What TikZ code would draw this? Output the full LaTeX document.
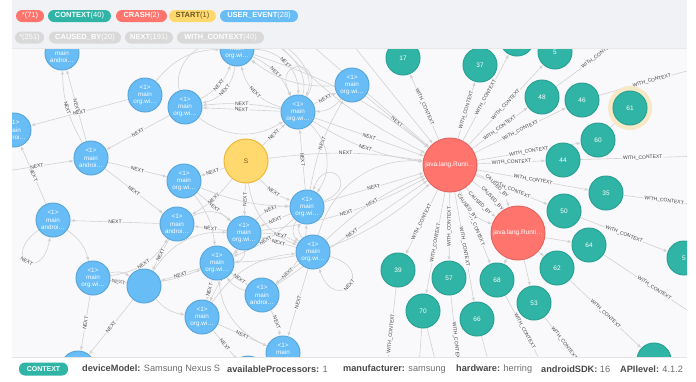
\documentclass[tikz,border=0pt]{standalone}
\usepackage{fontspec}
\setmainfont{Liberation Sans}
\usetikzlibrary{arrows.meta}

\definecolor{evtfill}{HTML}{68BDF6}
\definecolor{evtline}{HTML}{5CA8DB}
\definecolor{ctxfill}{HTML}{30B4A6}
\definecolor{ctxline}{HTML}{2AA295}
\definecolor{crashfill}{HTML}{FF756E}
\definecolor{crashline}{HTML}{E3665F}
\definecolor{startfill}{HTML}{FFD86E}
\definecolor{startline}{HTML}{EDBA39}
\definecolor{starttext}{HTML}{6B5420}
\definecolor{halo}{HTML}{F7E8C6}
\definecolor{relline}{HTML}{D2D2D2}
\definecolor{labtext}{HTML}{444444}
\definecolor{canvas}{HTML}{F9F9FB}
\definecolor{panel}{HTML}{F0F2F5}
\definecolor{pillgray}{HTML}{D9D9D9}
\definecolor{keytext}{HTML}{4A4A4A}
\definecolor{valtext}{HTML}{6E6E6E}

\newcommand{\propkv}[2]{{\color{keytext}\bfseries #1:} #2}

\pgfdeclarelayer{edges}
\pgfdeclarelayer{front}
\pgfsetlayers{edges,main,front}

\tikzset{
  evtnode/.style={circle, fill=evtfill, draw=evtline, line width=1pt, minimum size=34pt, inner sep=0pt,
    text=white, align=center, font=\fontsize{6.3}{7.4}\selectfont},
  ctxnode/.style={circle, fill=ctxfill, draw=ctxline, line width=1pt, minimum size=34pt, inner sep=0pt,
    text=white, font=\fontsize{6.5}{7}\selectfont},
  crashnode/.style={circle, fill=crashfill, draw=crashline, line width=1pt, minimum size=54pt, inner sep=0pt,
    text=white, font=\fontsize{6.5}{7}\selectfont},
  startnode/.style={circle, fill=startfill, draw=startline, line width=1pt, minimum size=44pt, inner sep=0pt,
    text=starttext, font=\fontsize{6.5}{7}\selectfont},
  picked/.style={preaction={draw=halo, line width=10pt}},
  rel/.style={draw=relline, line width=0.6pt, -{Latex[length=4pt,width=3.2pt]}},
  plainrel/.style={draw=relline, line width=0.6pt},
  rlab/.style={sloped, fill=canvas, inner sep=0.6pt, text=labtext, font=\fontsize{5}{5}\selectfont},
  pill/.style={rounded corners=6pt, minimum height=12pt, inner sep=0pt, text=white,
    font=\fontsize{7.5}{8}\selectfont},
}

\begin{document}
\begin{tikzpicture}[x=1pt, y=-1pt]
\useasboundingbox (0,0) rectangle (696,381);

% ends outside the canvas
\coordinate (oa) at (640,25);
\coordinate (ob) at (705,66);
\coordinate (oc) at (705,156);
\coordinate (od) at (705,206);
\coordinate (oe) at (705,322);
\coordinate (of) at (588,375);
\coordinate (og) at (548,375);
\coordinate (oh) at (492,375);
\coordinate (oi) at (460,380);
\coordinate (oj) at (386,380);
\coordinate (ok) at (418,380);
\coordinate (ol) at (440,380);
\coordinate (left) at (0,172);
\coordinate (top1) at (300,35);
\coordinate (top2) at (345,35);
\coordinate (top3) at (270,35);

% nodes
\begin{scope}
\clip (12,48) rectangle (687,357);
% user events
\node[evtnode] (u1) at (62,53) {<1>\\main\\androi…};
\node[evtnode] (u2) at (145,95) {<1>\\main\\org.wi…};
\node[evtnode] (u3) at (185,107) {<1>\\main\\org.wi…};
\node[evtnode] (u4) at (14,130) {<1>\\main\\androi…};
\node[evtnode] (u5) at (91,158) {<1>\\main\\androi…};
\node[evtnode] (u6) at (184,181) {<1>\\main\\org.wi…};
\node[evtnode] (u7) at (237,49) {<1>\\main\\org.wi…};
\node[evtnode] (u8) at (298,112) {<1>\\main\\org.wi…};
\node[evtnode] (u9) at (352,85) {<1>\\main\\org.wi…};
\node[evtnode] (u10) at (53,220) {<1>\\main\\androi…};
\node[evtnode] (u11) at (177,224) {<1>\\main\\androi…};
\node[evtnode] (u12) at (244,233) {<1>\\main\\org.wi…};
\node[evtnode] (u13) at (307,207) {<1>\\main\\org.wi…};
\node[evtnode] (u14) at (313,252) {<1>\\main\\org.wi…};
\node[evtnode] (u15) at (217,263) {<1>\\main\\org.wi…};
\node[evtnode] (u16) at (93,278) {<1>\\main\\org.wi…};
\node[evtnode] (u17) at (144,286) {};
\node[evtnode] (u18) at (262,295) {<1>\\main\\androi…};
\node[evtnode] (u19) at (202,317) {<1>\\main\\org.wi…};
\node[evtnode] (u20) at (283,353) {<1>\\main\\org.wi…};
\node[evtnode] (u21) at (78,368) {};
\node[evtnode] (u22) at (248,373) {};
% start
\node[startnode] (s0) at (246,161) {S};
% crashes
\node[crashnode] (c1) at (450,165) {java.lang.Runti…};
\node[crashnode] (c2) at (518,233) {java.lang.Runti…};
% contexts
\node[ctxnode] (t17) at (403,58) {17};
\node[ctxnode] (t37) at (480,65) {37};
\node[ctxnode] (tx) at (517,39) {};
\node[ctxnode] (t5) at (555,52) {5};
\node[ctxnode] (t48) at (542,97) {48};
\node[ctxnode] (t46) at (582,100) {46};
\node[ctxnode, picked] (t61) at (630,108) {61};
\node[ctxnode] (t60) at (598,140) {60};
\node[ctxnode] (t44) at (563,160) {44};
\node[ctxnode] (t35) at (606,193) {35};
\node[ctxnode] (t50) at (564,211) {50};
\node[ctxnode] (t64) at (589,245) {64};
\node[ctxnode] (t5b) at (684,258) {5};
\node[ctxnode] (t62) at (557,268) {62};
\node[ctxnode] (t39) at (398,270) {39};
\node[ctxnode] (t57) at (449,278) {57};
\node[ctxnode] (t68) at (497,280) {68};
\node[ctxnode] (t53) at (534,303) {53};
\node[ctxnode] (t70) at (423,311) {70};
\node[ctxnode] (t66) at (477,319) {66};
\node[ctxnode] (tbr) at (654,360) {};
\end{scope}

% relationships
\begin{pgfonlayer}{edges}
\fill[canvas] (12,48) rectangle (687,357);
\begin{scope}
\clip (12,48) rectangle (687,357);
% NEXT between user events
\foreach \a/\b/\k in {u5/u1/0, u5/u1/14, u2/u4/0, u3/u5/0, u5/u6/0, u8/u3/0, u8/u3/-8, u10/u4/0,
    u5/u11/0, s0/u8/0, s0/u6/0, s0/u13/-15, s0/u12/0, s0/u11/10, u11/u10/0, u12/u11/0,
    u13/u12/0, u12/u13/25, u12/u14/15, u14/u12/0, u13/u15/10,
    u15/u17/0, u16/u17/0, u11/u17/0, u16/u11/-25, u16/u21/0, u17/u21/0,
    u15/u19/0, u19/u20/0, u18/u20/10, u14/u20/0, u14/u18/0, u19/u22/0, u6/u12/0,
    u15/u18/0, u12/u19/0, u8/u9/0, u13/u8/0, u13/u9/10,
    u7/u8/20, u7/u8/45, u8/u7/30, u3/u7/-20, u7/u3/35,
    u13/c1/0, u14/c1/10, u18/c1/0, s0/c1/8, u9/c1/0, u8/c1/0, u8/c1/-12, u12/c1/-10, u7/c1/10}
  \draw[rel] (\a) to[bend left=\k] node[rlab]{NEXT} (\b);
% more NEXT curves, labels hidden under the crowd
\foreach \a/\b/\k in {u7/u8/70, u3/u7/60, u8/u7/-60, u9/u7/20, u8/u13/40, u12/u15/45, u13/u14/-45,
    u19/u14/25, u18/u13/-25, u11/u12/35, u6/u13/-10, u16/u15/-15, u17/u12/30, u10/u16/20,
    u17/u19/-20, u20/u15/30, u14/c1/40, u15/c1/-20, u2/u7/25, u3/u8/-35, s0/u14/-30, u6/u15/15,
    u15/u12/-20, u14/u13/30, u16/u17/25, u18/u15/20, u9/u8/25}
  \draw[rel] (\a) to[bend left=\k] (\b);
\draw[rel] (left) -- node[rlab]{NEXT} (u5);
\draw[rel] (top1) -- (c1);
\draw[rel] (top2) -- (c1);
\draw[rel] (top3) to[bend right=10] (c1);
% loops
\draw[rel] (u10) to[out=215,in=260,looseness=9] node[rlab]{NEXT} (u10);
\draw[rel] (u14) to[out=-15,in=-70,looseness=8] node[rlab]{NEXT} (u14);
\draw[rel] (u8) to[out=60,in=115,looseness=7] (u8);
\draw[rel] (u13) to[out=20,in=70,looseness=7] (u13);
% crash contexts
\foreach \t in {t17,t37,tx,t5,t48,t46,t60,t44,t35,t50,t39,t57,t70,t66,t68}
  \draw[rel] (c1) -- node[rlab]{WITH\_CONTEXT} (\t);
\foreach \t in {t64,t62,t53,t68}
  \draw[rel] (c2) -- (\t);
\foreach \k/\p in {-26/0.36,-9/0.5,9/0.64,26/0.5}
  \draw[rel] (c1) to[bend left=\k] node[rlab, pos=\p]{CAUSED\_BY} (c2);
% contexts going off the canvas
\draw[plainrel] (t48) -- node[rlab]{WITH\_CONTEXT} (oa);
\draw[plainrel] (t46) -- node[rlab]{WITH\_CONTEXT} (ob);
\draw[rel] (t60) -- (t61);
\draw[plainrel] (t44) -- node[rlab]{WITH\_CONTEXT} (oc);
\draw[plainrel] (t35) -- node[rlab]{WITH\_CONTEXT} (od);
\draw[rel] (t50) -- node[rlab]{WITH\_CONTEXT} (t5b);
\draw[plainrel] (t64) -- node[rlab]{WITH\_CONTEXT} (oe);
\draw[rel] (t62) -- node[rlab]{WITH\_CONTEXT} (tbr);
\draw[plainrel] (t53) -- node[rlab, pos=0.45]{WITH\_CONTEXT} (of);
\draw[plainrel] (t68) -- node[rlab, pos=0.45]{WITH\_CONTEXT} (og);
\draw[plainrel] (t66) -- (oh);
\draw[plainrel] (t57) -- node[rlab, pos=0.55]{WITH\_CONTEXT} (oi);
\draw[plainrel] (t39) -- node[rlab, pos=0.5]{WITH\_CONTEXT} (oj);
\draw[plainrel] (t70) -- (ok);
\draw[plainrel] (t70) -- (ol);
\end{scope}
\end{pgfonlayer}

% legend and property bar
\begin{pgfonlayer}{front}
\fill[panel] (12,0) rectangle (687,48);
\draw[pillgray!60] (12,48) -- (687,48);
\node[pill, fill=crashfill, minimum width=28pt] (k1) at (30,16) {*(71)};
\node[pill, fill=ctxfill, minimum width=63pt] (k2) at (79.5,16) {\textbf{CONTEXT}(40)};
\node[pill, fill=crashfill, minimum width=51pt] (k3) at (141.5,16) {\textbf{CRASH}(2)};
\node[pill, fill=startfill, text=starttext, minimum width=47pt] (k4) at (192.5,16) {\textbf{START}(1)};
\node[pill, fill=evtfill, minimum width=78pt] (k5) at (259,16) {\textbf{USER\_EVENT}(28)};
\node[pill, fill=pillgray, minimum width=29pt] (r1) at (29.5,37.5) {*(251)};
\node[pill, fill=pillgray, minimum width=72pt] (r2) at (85,37.5) {\textbf{CAUSED\_BY}(20)};
\node[pill, fill=pillgray, minimum width=48pt] (r3) at (149,37.5) {\textbf{NEXT}(191)};
\node[pill, fill=pillgray, minimum width=87pt] (r4) at (220.5,37.5) {\textbf{WITH\_CONTEXT}(40)};
\fill[white] (0,357) rectangle (696,381);
\draw[pillgray!70] (12,357) -- (687,357);
\node[pill, fill=ctxfill, minimum width=49pt, minimum height=13pt, font=\fontsize{7}{8}\selectfont\bfseries] (sel) at (43.5,369) {CONTEXT};
\begin{scope}[every node/.style={anchor=west, text=valtext, inner sep=0pt, font=\fontsize{9.2}{10}\selectfont}]
\node (p1) at (82,369) {\propkv{deviceModel}{Samsung Nexus S}};
\node (p2) at (227,369) {\propkv{availableProcessors}{1}};
\node (p3) at (343,369) {\propkv{manufacturer}{samsung}};
\node (p4) at (456,369) {\propkv{hardware}{herring}};
\node (p5) at (541,369) {\propkv{androidSDK}{16}};
\node (p6) at (620,369) {\propkv{APIlevel}{4.1.2}};
\end{scope}
\end{pgfonlayer}
\end{tikzpicture}
\end{document}
